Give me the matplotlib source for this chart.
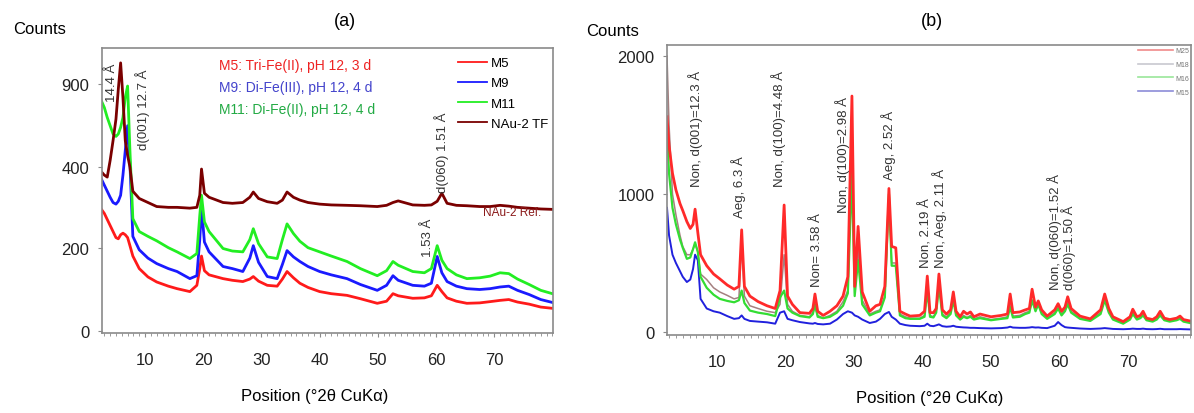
import numpy as np
import matplotlib
matplotlib.use("Agg")
import matplotlib.pyplot as plt
from matplotlib.ticker import MultipleLocator, FixedLocator

plt.rcParams['font.family'] = ['Liberation Sans', 'DejaVu Sans']

# ---------------- panel (a) data ----------------
a_pos = [2.5, 3.0, 3.5, 4.0, 4.5, 5.0, 5.4, 5.8, 6.2, 6.6, 7.0, 7.4, 7.9, 9.0, 10.5,
         12.0, 14.0, 15.5, 17.7, 18.9, 19.4, 19.7, 20.2, 21.0, 23.4, 25.0, 26.8, 28.0,
         28.6, 29.5, 31.0, 32.7, 33.6, 34.4, 35.5, 36.6, 38.0, 40.0, 42.0, 44.7, 47.0,
         49.9, 51.5, 52.6, 53.5, 56.0, 58.0, 59.2, 60.2, 61.0, 61.9, 63.5, 65.3, 67.5,
         69.3, 71.0, 72.5, 74.0, 76.0, 78.0, 80.0]
m5 = [295, 285, 270, 255, 240, 225, 222, 232, 236, 232, 225, 205, 180, 150, 130,
      118, 108, 102, 95, 110, 150, 180, 145, 135, 126, 122, 119, 125,
      131, 120, 110, 108, 125, 143, 128, 115, 105, 95, 90, 86, 78,
      67, 72, 90, 85, 79, 80, 85, 110, 95, 80, 72, 67, 68,
      71, 74, 76, 70, 65, 58, 55]
m9 = [370, 355, 340, 325, 312, 308, 315, 330, 380, 500, 650, 420, 228, 195, 175,
      162, 150, 143, 126, 133, 220, 300, 214, 190, 155, 150, 143, 175,
      205, 165, 131, 126, 160, 193, 178, 167, 155, 143, 135, 126, 112,
      98, 110, 133, 122, 110, 108, 115, 179, 140, 119, 108, 102, 100,
      102, 106, 108, 98, 88, 76, 69]
m11 = [800, 760, 700, 650, 600, 585, 600, 640, 700, 820, 890, 500, 272, 240, 228,
       217, 200, 190, 174, 186, 280, 330, 264, 240, 198, 192, 190, 220,
       247, 210, 178, 174, 220, 259, 235, 216, 200, 190, 180, 167, 150,
       133, 145, 167, 158, 143, 140, 150, 205, 170, 150, 135, 126, 128,
       132, 140, 138, 125, 112, 98, 90]
nau2 = [388, 380, 375, 440, 560, 690, 870, 1030, 820, 560, 470, 400, 340, 322, 312,
        302, 300, 300, 298, 300, 330, 395, 335, 325, 312, 310, 312, 325,
        338, 322, 314, 310, 318, 338, 325, 318, 312, 308, 306, 305, 304,
        302, 305, 312, 316, 306, 305, 306, 315, 335, 310, 305, 304, 302,
        302, 305, 303, 300, 298, 296, 295]
a_names = ['M5', 'M9', 'M11', 'NAu-2 TF']
a_colors = ['#ff1a1a', '#1a1aff', '#22ee22', '#7a0000']
a_yticks = [0, 200, 400, 900]
x_ticks = [10, 20, 30, 40, 50, 60, 70]

# ---------------- panel (b) data ----------------
b_pos = [2.7, 3.0, 3.5, 4.0, 4.6, 5.0, 5.6, 6.1, 6.5, 6.8, 7.2, 7.6, 8.5, 9.5, 10.4,
         11.5, 12.5, 13.2, 13.6, 14.0, 14.8, 16.0, 17.3, 18.5, 19.2, 19.8, 20.3, 21.0,
         22.1, 23.5, 24.0, 24.3, 24.7, 25.5, 26.5, 27.5, 28.4, 29.1, 29.7, 30.1, 30.6,
         31.2, 32.3, 33.2, 33.8, 34.5, 35.1, 35.5, 36.1, 36.7, 37.5, 38.2, 39.6, 40.3,
         40.7, 41.1, 41.6, 42.0, 42.4, 42.9, 43.5, 44.1, 44.5, 44.9, 45.5, 46.0, 46.5,
         47.0, 47.5, 48.4, 50.0, 51.5, 52.4, 52.8, 53.2, 54.2, 55.0, 55.6, 56.0, 56.5,
         56.9, 57.4, 58.2, 59.3, 59.8, 60.3, 60.8, 61.2, 61.7, 63.0, 64.5, 66.0, 66.6,
         67.2, 67.8, 69.3, 70.3, 70.7, 71.3, 71.8, 72.2, 72.7, 73.6, 74.2, 74.7, 75.3,
         76.1, 77.1, 77.6, 78.1, 79.5]
b_red = [1560, 1350, 1150, 1030, 930, 880, 800, 750, 780, 890, 720, 560, 480, 420, 385,
         340, 310, 330, 740, 330, 260, 220, 190, 170, 300, 920, 260, 200,
         140, 135, 170, 275, 150, 120, 150, 190, 260, 400, 1710, 330, 765,
         290, 150, 190, 200, 330, 1040, 620, 610, 150, 130, 115, 120, 150,
         405, 140, 140, 170, 420, 160, 130, 160, 290, 150, 110, 150, 130,
         145, 110, 130, 110, 120, 130, 275, 140, 145, 160, 170, 310, 180,
         225, 160, 115, 160, 205, 150, 180, 255, 170, 115, 95, 160, 275,
         170, 110, 75, 110, 165, 110, 120, 150, 100, 90, 110, 150, 100,
         90, 100, 115, 90, 75]
b_gray = [2000, 1500, 1000, 850, 700, 620, 560, 560, 600, 640, 580, 420, 380, 320, 290,
          265, 240, 250, 640, 260, 190, 170, 150, 140, 200, 560, 200, 150,
          120, 110, 140, 180, 120, 100, 120, 150, 220, 300, 1300, 280, 600,
          230, 130, 150, 160, 260, 1000, 500, 500, 130, 110, 100, 100, 120,
          330, 120, 110, 150, 360, 130, 110, 140, 240, 130, 95, 120, 105,
          120, 95, 110, 90, 100, 110, 200, 115, 120, 140, 150, 220, 160,
          200, 140, 100, 140, 180, 130, 160, 220, 150, 100, 85, 140, 240,
          150, 95, 65, 95, 145, 95, 105, 130, 90, 80, 95, 130, 90,
          80, 90, 100, 80, 65]
b_green = [1450, 1150, 900, 780, 670, 610, 530, 540, 600, 650, 580, 400, 320, 270, 240,
           225, 215, 230, 300, 210, 155, 140, 130, 115, 250, 300, 170, 140,
           115, 105, 130, 200, 110, 100, 110, 140, 190, 280, 1150, 260, 520,
           200, 120, 140, 150, 250, 1000, 480, 480, 120, 100, 95, 95, 110,
           300, 110, 105, 140, 330, 120, 100, 130, 230, 120, 90, 110, 100,
           110, 90, 100, 85, 95, 100, 180, 105, 110, 130, 140, 230, 150,
           200, 130, 95, 130, 170, 120, 150, 200, 140, 95, 80, 130, 230,
           140, 90, 60, 90, 130, 90, 100, 120, 85, 75, 90, 120, 85,
           75, 85, 95, 75, 60]
b_blue = [900, 700, 560, 500, 440, 400, 362, 380, 456, 560, 520, 240, 170, 150, 140,
          115, 95, 100, 120, 95, 80, 75, 70, 60, 140, 150, 95, 85,
          72, 62, 60, 65, 58, 55, 60, 90, 130, 150, 140, 120, 110,
          90, 65, 75, 95, 130, 145, 110, 90, 60, 50, 45, 42, 45,
          60, 45, 42, 48, 55, 42, 38, 40, 45, 38, 35, 33, 32,
          30, 30, 28, 26, 28, 32, 38, 32, 30, 30, 32, 35, 32,
          33, 30, 28, 45, 72, 50, 35, 32, 30, 25, 22, 25, 28,
          25, 22, 20, 22, 24, 22, 22, 24, 21, 20, 21, 23, 20,
          20, 20, 21, 20, 18]
b_names = ['M25', 'M18', 'M16', 'M15']
b_colors = ['#ff2a2a', '#a58080', '#33dd33', '#2020dd']
b_legend_colors = ['#f08a8a', '#c8c8d0', '#99e699', '#8c8cd8']

# piecewise count scale of panel (a): 0-400 nearly linear, compressed above
seg_c = np.array([0, 200, 400, 900, 5000], float)
seg_d = np.array([0, 84, 165, 248, 248 + 4100 * 0.166])


def fwd(v):
    v = np.asarray(v, float)
    out = np.interp(v, seg_c, seg_d)
    return np.where(v < 0, v * 0.42, out)


def inv(v):
    v = np.asarray(v, float)
    out = np.interp(v, seg_d, seg_c)
    return np.where(v < 0, v / 0.42, out)


W, H = 1194, 414
fig = plt.figure(figsize=(W / 100, H / 100), dpi=100)


def px_ax(x0, x1, ytop, ybot):
    return fig.add_axes([x0 / W, 1 - ybot / H, (x1 - x0) / W, (ybot - ytop) / H])


def style(ax):
    for s in ax.spines.values():
        s.set_color('#8a8a8a')
        s.set_linewidth(1.2)
    ax.xaxis.set_major_locator(FixedLocator(x_ticks))
    ax.xaxis.set_minor_locator(MultipleLocator(1))
    ax.tick_params(axis='x', which='major', length=3, pad=11, color='#8a8a8a',
                   labelsize=12, labelcolor='#222222')
    ax.tick_params(axis='x', which='minor', length=2.5, color='#8a8a8a')
    ax.tick_params(axis='y', length=3, pad=6, color='#8a8a8a', labelsize=12,
                   labelcolor='#222222')


# ---------------- panel (a) ----------------
ax1 = px_ax(102, 553, 49, 334)
ax1.set_yscale('function', functions=(fwd, inv))
for ys, name, col in zip([m5, m9, m11, nau2], a_names, a_colors):
    ax1.plot(a_pos, ys, color=col, lw=2.0, label=name)
ax1.set_xlim(2.6, 80.1)
ax1.set_ylim(-4, 1120)
ax1.yaxis.set_major_locator(FixedLocator(a_yticks))
ax1.yaxis.set_minor_locator(FixedLocator([]))
style(ax1)
leg = ax1.legend(loc='upper left', bbox_to_anchor=(458 / W, 1 - 58 / H),
                 bbox_transform=fig.transFigure, frameon=False, fontsize=9.5,
                 handlelength=2.2, handletextpad=0.3, labelspacing=0.6,
                 borderpad=0, borderaxespad=0)
for ln in leg.get_lines():
    ln.set_linewidth(1.3)

fig.text(219 / W, 1 - 66 / H, 'M5: Tri-Fe(II), pH 12, 3 d', color='#ee2222',
         fontsize=10, va='center')
fig.text(219 / W, 1 - 88 / H, 'M9: Di-Fe(III), pH 12, 4 d', color='#4444cc',
         fontsize=10, va='center')
fig.text(219 / W, 1 - 110 / H, 'M11: Di-Fe(II), pH 12, 4 d', color='#22aa44',
         fontsize=10, va='center')

ann_kw = dict(rotation=90, ha='center', va='bottom', fontsize=9.5, color='#333333')
ax1.text(4.3, 798, '14.4 Å', **ann_kw)
ax1.text(9.5, 508, 'd(001) 12.7 Å', **ann_kw)
ax1.text(61.0, 338, 'd(060) 1.51 Å', **ann_kw)
ax1.text(58.6, 181, '1.53 Å', **ann_kw)
ax1.text(78.0, 289, 'NAu-2 Ref.', color='#8b1a1a', fontsize=8.5,
         ha='right', va='center')

fig.text(40 / W, 1 - 30 / H, 'Counts', fontsize=12, ha='center', va='center')
fig.text(345 / W, 1 - 22 / H, '(a)', fontsize=13, ha='center', va='center')
fig.text(315 / W, 1 - 397 / H, 'Position (°2θ CuKα)', fontsize=12,
         ha='center', va='center')

# ---------------- panel (b) ----------------
ax2 = px_ax(667, 1191, 46, 336)
b_series = [b_red, b_gray, b_green, b_blue]
b_lw = [2.0, 1.1, 1.6, 1.4]
for i in [3, 1, 2, 0]:
    ax2.plot(b_pos, b_series[i], color=b_colors[i], lw=b_lw[i])
ax2.set_xlim(2.7, 79.2)
ax2.set_ylim(-22, 2080)
ax2.set_yticks([0, 1000, 2000])
style(ax2)

handles = [plt.Line2D([], [], color=c, lw=1.2) for c in b_legend_colors]
ax2.legend(handles, b_names, loc='upper left', bbox_to_anchor=(1138 / W, 1 - 48 / H),
           bbox_transform=fig.transFigure, frameon=False, fontsize=5,
           handlelength=5, handletextpad=0.4, labelspacing=1.0,
           borderpad=0, borderaxespad=0, labelcolor='#777777')

kw = dict(rotation=90, ha='center', va='bottom', fontsize=9.5, color='#333333',
          multialignment='left', linespacing=0.95)
ax2.text(6.9, 1058, 'Non, d(001)=12.3 Å', **kw)
ax2.text(13.1, 833, 'Aeg, 6.3 Å', **kw)
ax2.text(19.0, 1058, 'Non, d(100)=4.48 Å', **kw)
ax2.text(24.6, 333, 'Non= 3.58 Å', **kw)
ax2.text(28.4, 870, 'Non, d(100)=2.98 Å', **kw)
ax2.text(35.0, 1109, 'Aeg, 2.52 Å', **kw)
ax2.text(41.5, 471, 'Non, 2.19 Å\nNon, Aeg, 2.11 Å', **kw)
ax2.text(60.3, 312, 'Non, d(060)=1.52 Å\nd(060)=1.50 Å', **kw)

fig.text(613 / W, 1 - 31 / H, 'Counts', fontsize=12, ha='center', va='center')
fig.text(932 / W, 1 - 22 / H, '(b)', fontsize=13, ha='center', va='center')
fig.text(930 / W, 1 - 399 / H, 'Position (°2θ CuKα)', fontsize=12,
         ha='center', va='center')

fig.savefig('out.png', dpi=100)
